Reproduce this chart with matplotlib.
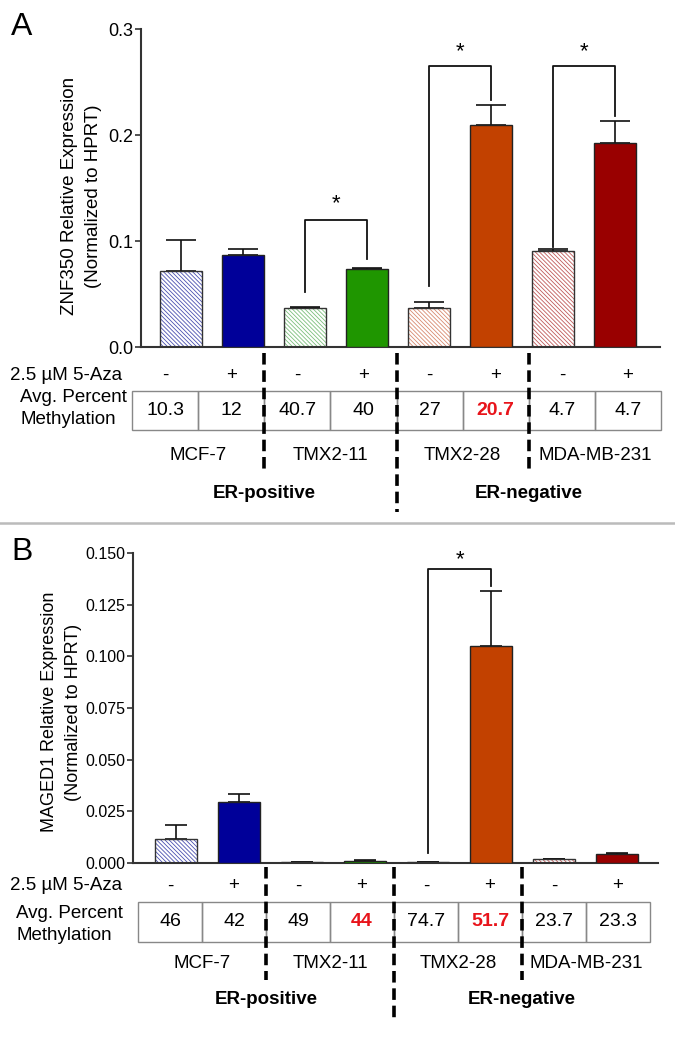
import numpy as np
import matplotlib
matplotlib.use('Agg')
import matplotlib.pyplot as plt
from matplotlib.patches import Rectangle
from matplotlib.transforms import offset_copy

plt.rcParams['font.family'] = ['Liberation Sans', 'DejaVu Sans']
plt.rcParams['hatch.linewidth'] = 0.6

W, H = 675, 1037

# ---- data ----
treatment = ['-', '+', '-', '+', '-', '+', '-', '+']
cell_lines = ['MCF-7', 'TMX2-11', 'TMX2-28', 'MDA-MB-231']
er_groups = ['ER-positive', 'ER-negative']

fill_colors = ['white', '#000099', 'white', '#1f9600', 'white', '#c24100', 'white', '#990000']
hatch_colors = ['#4a50b0', None, '#7cbf7c', None, '#d88a70', None, '#c05a5a', None]

znf_mean = [0.072, 0.087, 0.037, 0.074, 0.037, 0.209, 0.091, 0.192]
znf_err = [0.029, 0.005, 0.001, 0.001, 0.005, 0.019, 0.001, 0.021]
znf_meth = ['10.3', '12', '40.7', '40', '27', '20.7', '4.7', '4.7']
znf_red = [5]
# brackets: (left bar, right bar, left foot, top, right foot, star)
znf_brackets = [(2, 3, 0.052, 0.120, 0.083, 0.142),
                (4, 5, 0.058, 0.265, 0.233, 0.285),
                (6, 7, 0.094, 0.265, 0.218, 0.285)]

mag_mean = [0.0116, 0.0295, 0.0004, 0.0008, 0.0003, 0.1050, 0.0018, 0.0043]
mag_err = [0.0068, 0.0039, 0.0001, 0.0005, 0.0001, 0.0266, 0.0002, 0.0006]
mag_meth = ['46', '42', '49', '44', '74.7', '51.7', '23.7', '23.3']
mag_red = [3, 5]
mag_brackets = [(4, 5, 0.005, 0.1422, 0.134, 0.150)]

fig = plt.figure(figsize=(W / 100, H / 100), dpi=100)
fig.set_facecolor('white')

ov = fig.add_axes([0, 0, 1, 1])
ov.set_xlim(0, W)
ov.set_ylim(H, 0)
ov.axis('off')


def box(x0, y0, x1, y1):
    return [x0 / W, 1 - y1 / H, (x1 - x0) / W, (y1 - y0) / H]


def panel(ax, means, errs, xlim, ylim, ticks, fmt, tick_fs, cap, brackets):
    x = np.arange(len(means))
    wd = 0.68
    for i in x:
        if hatch_colors[i]:
            ax.bar(i, means[i], wd, color='white', edgecolor=hatch_colors[i],
                   hatch='\\' * 8, linewidth=0, zorder=2)
            ax.bar(i, means[i], wd, fill=False, edgecolor='#333333', linewidth=1, zorder=3)
        else:
            ax.bar(i, means[i], wd, color=fill_colors[i], edgecolor='#222222',
                   linewidth=1, zorder=3)
    ax.errorbar(x, means, yerr=[np.zeros(len(errs)), errs], fmt='none', ecolor='#111111',
                elinewidth=1.2, capsize=cap, capthick=1.2, zorder=1)
    star_tr = offset_copy(ax.transData, fig=fig, y=-9, units='points')
    for l, r, lf, top, rf, st in brackets:
        ax.plot([l, l, r, r], [lf, top, top, rf], color='#111111', lw=1.3,
                clip_on=False, zorder=4)
        ax.text((l + r) / 2, st, '*', ha='center', va='baseline', fontsize=16,
                transform=star_tr, clip_on=False)
    ax.set_xlim(*xlim)
    ax.set_ylim(*ylim)
    ax.set_yticks(ticks)
    ax.set_yticklabels([fmt.format(t) for t in ticks])
    ax.set_xticks([])
    for s in ['top', 'right']:
        ax.spines[s].set_visible(False)
    for s in ['left', 'bottom']:
        ax.spines[s].set_color('#333333')
        ax.spines[s].set_linewidth(1.5)
    ax.tick_params(axis='y', direction='out', length=4, width=1.2, color='#333333',
                   labelsize=tick_fs, pad=1.5)
    ax.patch.set_alpha(0)


def table(meth, red, tx0, tx1, ty0, ty1, row_y, name_y, er_y, dash_y0, dash_y1,
          lab_x, lab_y):
    cw = (tx1 - tx0) / 8
    for i in range(8):
        ov.add_patch(Rectangle((tx0 + i * cw, ty0), cw, ty1 - ty0, fill=False,
                               edgecolor='#888888', lw=1))
        cx = tx0 + (i + 0.5) * cw
        ov.text(cx, row_y, treatment[i], ha='center', va='center', fontsize=13.5)
        if i in red:
            ov.text(cx, (ty0 + ty1) / 2, meth[i], ha='center', va='center',
                    fontsize=14, color='#e8141b', fontweight='bold')
        else:
            ov.text(cx, (ty0 + ty1) / 2, meth[i], ha='center', va='center', fontsize=14)
    for k, name in enumerate(cell_lines):
        ov.text(tx0 + (2 * k + 1) * cw, name_y, name, ha='center', va='center',
                fontsize=13.5)
    for k, name in enumerate(er_groups):
        ov.text(tx0 + (4 * k + 2) * cw, er_y, name, ha='center', va='center',
                fontsize=13.5, fontweight='bold')
    for k, y1 in enumerate(dash_y1):
        xd = tx0 + 2 * (k + 1) * cw
        ov.plot([xd, xd], [dash_y0, y1], color='black', lw=2.6,
                linestyle=(0, (3.2, 1.6)), solid_capstyle='butt')
    ov.text(10, row_y, '2.5 \u00b5M 5-Aza', ha='left', va='center', fontsize=13.5)
    ov.text(lab_x, lab_y[0], 'Avg. Percent', ha='left', va='center', fontsize=13.5)
    ov.text(lab_x, lab_y[1], 'Methylation', ha='left', va='center', fontsize=13.5)


# ---- panel A ----
axA = fig.add_axes(box(141, 29, 660, 347))
panel(axA, znf_mean, znf_err, (-0.645, 7.726), (0, 0.3), [0, 0.1, 0.2, 0.3],
      '{:.1f}', 13, 10.5, znf_brackets)
table(znf_meth, znf_red, 132, 661, 391, 430, 375, 456, 493, 353, [474, 512, 474],
      20, (398, 420))
ov.text(70, 196, 'ZNF350 Relative Expression', rotation=90, ha='center', va='center',
        fontsize=13.5)
ov.text(94, 196, '(Normalized to HPRT)', rotation=90, ha='center', va='center',
        fontsize=13.5)
ov.text(11, 35, 'A', fontsize=23, va='baseline', ha='left')

# separator
ov.plot([0, W], [523, 523], color='#bbbbbb', lw=1.8)

# ---- panel B ----
axB = fig.add_axes(box(133, 553, 658, 863))
panel(axB, mag_mean, mag_err, (-0.683, 7.65), (0, 0.15),
      [0, 0.025, 0.05, 0.075, 0.1, 0.125, 0.15], '{:.3f}', 11.5, 8, mag_brackets)
table(mag_meth, mag_red, 138, 650, 902, 942, 886, 963, 1000, 867, [980, 1022, 980],
      16, (913, 935))
ov.text(50, 712, 'MAGED1 Relative Expression', rotation=90, ha='center', va='center',
        fontsize=13)
ov.text(74, 712, '(Normalized to HPRT)', rotation=90, ha='center', va='center',
        fontsize=13)
ov.text(11, 560, 'B', fontsize=23, va='baseline', ha='left')

fig.savefig('out.png', dpi=100)
